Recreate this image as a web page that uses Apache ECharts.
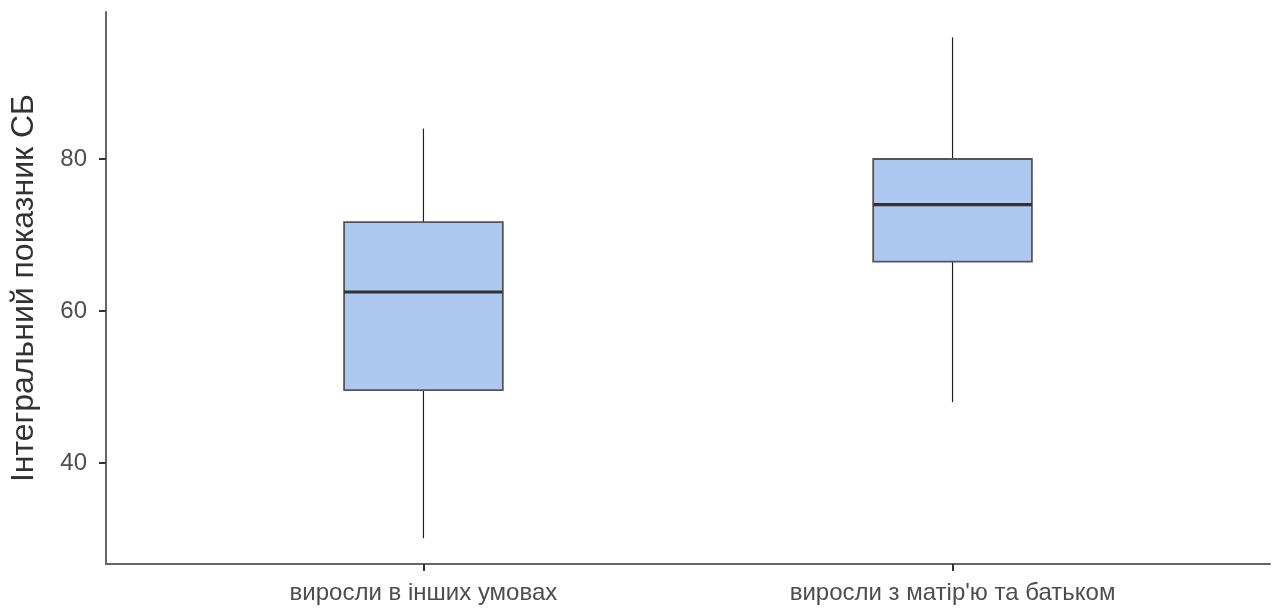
<!DOCTYPE html>
<html><head><meta charset="utf-8">
<script src="https://cdn.jsdelivr.net/npm/echarts@6/dist/echarts.min.js"></script>
<style>html,body{margin:0;padding:0;background:#fff}#c{width:1272px;height:608px}</style>
</head><body><div id="c"></div>
<script>
const categories = ['виросли в інших умовах', 'виросли з матір\'ю та батьком'];
const whiskerLow = [30.1, 48.0];
const q1 = [49.6, 66.5];
const median = [62.5, 74.0];
const q3 = [71.7, 80.0];
const whiskerHigh = [84.0, 96.0];
const yTicks = [40, 60, 80];
const yTitle = 'Інтегральний показник СБ';

const data = categories.map((c, i) => [i + 1, whiskerLow[i], q1[i], median[i], q3[i], whiskerHigh[i]]);
const FONT = 'Liberation Sans, Arial, sans-serif';
const chart = echarts.init(document.getElementById('c'));
chart.setOption({
  animation: false,
  grid: {left: 106, right: 2, top: 12, bottom: 44, containLabel: false, outerBoundsMode: 'none'},
  xAxis: {
    type: 'value', min: 0.4, max: 2.6,
    splitLine: {show: false},
    axisLine: {show: true, lineStyle: {color: '#666', width: 2}},
    axisTick: {show: true, customValues: [1, 2], length: 7, lineStyle: {color: '#333', width: 2}},
    axisLabel: {customValues: [1, 2], formatter: v => categories[Math.round(v) - 1] || '',
      color: '#4d4d4d', fontSize: 24, fontFamily: FONT, margin: 17}
  },
  yAxis: {
    type: 'value', min: 26.71, max: 99.34,
    name: yTitle, nameLocation: 'middle', nameGap: 66,
    nameTextStyle: {fontSize: 32, color: '#333', fontFamily: FONT},
    splitLine: {show: false},
    axisLine: {show: true, lineStyle: {color: '#666', width: 2}},
    axisTick: {show: true, customValues: yTicks, length: 7, lineStyle: {color: '#333', width: 2}},
    axisLabel: {customValues: yTicks, color: '#4d4d4d', fontSize: 24, fontFamily: FONT, margin: 19}
  },
  series: [{
    type: 'custom',
    data: data,
    encode: {x: 0, y: [1, 2, 3, 4, 5]},
    renderItem: function (params, api) {
      const x = api.value(0);
      const half = 0.15;
      const pLo = api.coord([x, api.value(1)]);
      const pQ1 = api.coord([x, api.value(2)]);
      const pMed = api.coord([x, api.value(3)]);
      const pQ3 = api.coord([x, api.value(4)]);
      const pHi = api.coord([x, api.value(5)]);
      const l = api.coord([x - half, api.value(2)])[0];
      const r = api.coord([x + half, api.value(2)])[0];
      return {type: 'group', children: [
        {type: 'line', shape: {x1: pQ3[0], y1: pHi[1], x2: pQ3[0], y2: pQ3[1]}, style: {stroke: '#222', lineWidth: 1.2}},
        {type: 'line', shape: {x1: pQ1[0], y1: pQ1[1], x2: pQ1[0], y2: pLo[1]}, style: {stroke: '#222', lineWidth: 1.2}},
        {type: 'rect', shape: {x: l, y: pQ3[1], width: r - l, height: pQ1[1] - pQ3[1]},
          style: {fill: '#aec9f1', stroke: '#555', lineWidth: 1.8}},
        {type: 'line', shape: {x1: l, y1: pMed[1], x2: r, y2: pMed[1]}, style: {stroke: '#333', lineWidth: 3.2}}
      ]};
    }
  }]
});
</script></body></html>
